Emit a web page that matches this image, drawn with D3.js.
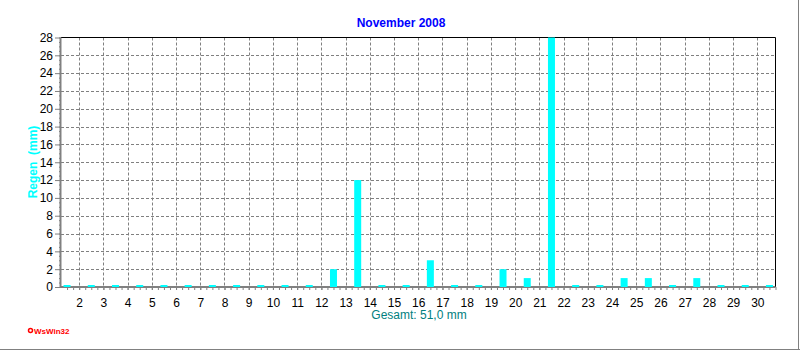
<!DOCTYPE html>
<html>
<head>
<meta charset="utf-8">
<script src="https://cdn.jsdelivr.net/npm/d3@7"></script>
<style>
  body { margin: 0; background: #fff; }
  svg { display: block; font-family: Arial, "Liberation Sans", sans-serif; }
</style>
</head>
<body>
<svg id="chart" width="800" height="350"></svg>
<script>
// rain per day, November 2008
const days = d3.range(1, 31);
const rain = [0, 0, 0, 0, 0, 0, 0, 0, 0, 0,
              0, 2, 12, 0, 0, 3, 0, 0, 2, 1,
              28, 0, 0, 1, 1, 0, 1, 0, 0, 0];
const xTicks = d3.range(2, 31);
const yTicks = d3.range(0, 29, 2);
const title = "November 2008";
const total = "Gesamt: 51,0 mm";

let svg = d3.select("#chart");

let plotLeft = 61, plotRight = 775.5, plotTop = 37.5, plotBottom = 287;

let x = d3.scaleLinear().domain([1.25, 30.75]).range([plotLeft, plotRight]);
let y = d3.scaleLinear().domain([0, 28]).range([plotBottom, plotTop]);

// outer frame (right + bottom)
svg.append("line").attr("x1", 798.5).attr("x2", 798.5).attr("y1", 0).attr("y2", 350)
  .attr("stroke", "#808080");
svg.append("line").attr("x1", 0).attr("x2", 800).attr("y1", 349.5).attr("y2", 349.5)
  .attr("stroke", "#808080");

// grid
svg.append("g")
  .selectAll("line")
  .data(xTicks)
  .enter()
  .append("line")
  .attr("x1", (d) => Math.round(x(d)) + 0.5)
  .attr("x2", (d) => Math.round(x(d)) + 0.5)
  .attr("y1", plotTop)
  .attr("y2", plotBottom)
  .attr("stroke", "#808080")
  .attr("stroke-dasharray", "3,2");

svg.append("g")
  .selectAll("line")
  .data(yTicks.filter((d) => d > 0 && d < 28))
  .enter()
  .append("line")
  .attr("x1", plotLeft)
  .attr("x2", plotRight)
  .attr("y1", (d) => Math.round(y(d)) + 0.5)
  .attr("y2", (d) => Math.round(y(d)) + 0.5)
  .attr("stroke", "#808080")
  .attr("stroke-dasharray", "3,2");

// top and right border
svg.append("line").attr("x1", plotLeft).attr("x2", plotRight).attr("y1", plotTop).attr("y2", plotTop)
  .attr("stroke", "#000");
svg.append("line").attr("x1", plotRight).attr("x2", plotRight).attr("y1", plotTop).attr("y2", plotBottom)
  .attr("stroke", "#000");

// y axis with minor ticks every 0.5
let yMinor = d3.axisLeft(y).tickValues(d3.range(0, 28.01, 0.5)).tickSize(2).tickFormat("");
let yMajor = d3.axisLeft(y).tickValues(yTicks).tickSize(6).tickPadding(2).tickFormat(d3.format("d"));
let gy = svg.append("g").attr("transform", `translate(${plotLeft},0)`).call(yMinor);
let gy2 = svg.append("g").attr("transform", `translate(${plotLeft},0)`).call(yMajor);
[gy, gy2].forEach((g) => {
  g.select(".domain").remove();
  g.selectAll(".tick line").attr("stroke", "#808080");
});
gy2.selectAll(".tick text").attr("font-size", 12).attr("fill", "#000")
  .attr("font-family", "Arial, 'Liberation Sans', sans-serif");

// x axis with minor ticks every quarter day
let xMinor = d3.axisBottom(x).tickValues(d3.range(1.5, 30.76, 0.25)).tickSize(3).tickFormat("");
let xMajor = d3.axisBottom(x).tickValues(xTicks).tickSize(3).tickPadding(8).tickFormat(d3.format("d"));
let gx = svg.append("g").attr("transform", `translate(0,${plotBottom})`).call(xMinor);
let gx2 = svg.append("g").attr("transform", `translate(0,${plotBottom})`).call(xMajor);
[gx, gx2].forEach((g) => {
  g.select(".domain").remove();
  g.selectAll(".tick line").attr("stroke", "#808080");
});
gx2.selectAll(".tick text").attr("font-size", 12).attr("fill", "#000")
  .attr("font-family", "Arial, 'Liberation Sans', sans-serif");

// thick gray axis lines
svg.append("line").attr("x1", plotLeft - 0.5).attr("x2", plotLeft - 0.5).attr("y1", plotTop).attr("y2", plotBottom + 1)
  .attr("stroke", "#808080").attr("stroke-width", 2);
svg.append("line").attr("x1", plotLeft - 1).attr("x2", plotRight).attr("y1", plotBottom).attr("y2", plotBottom)
  .attr("stroke", "#808080").attr("stroke-width", 2);

// bars
svg.append("g")
  .selectAll("rect")
  .data(days)
  .enter()
  .append("rect")
  .attr("x", (d) => x(d + 0.5) - 3.5)
  .attr("width", 7)
  .attr("y", (d, i) => Math.min(y(rain[i]), plotBottom - 2))
  .attr("height", (d, i) => Math.max(plotBottom - y(rain[i]), 2))
  .attr("fill", "#00ffff");

// title
svg.append("text")
  .attr("x", 401)
  .attr("y", 27)
  .attr("text-anchor", "middle")
  .attr("font-size", 12)
  .attr("font-weight", "bold")
  .attr("fill", "#0000ff")
  .text(title);

// y label
svg.append("text")
  .attr("transform", "translate(37,162) rotate(-90)")
  .attr("text-anchor", "middle")
  .attr("font-size", 12)
  .attr("font-weight", "bold")
  .attr("fill", "#00ffff")
  .attr("xml:space", "preserve")
  .style("white-space", "pre")
  .text("Regen  (mm)");

// total
svg.append("text")
  .attr("x", 419)
  .attr("y", 319)
  .attr("text-anchor", "middle")
  .attr("font-size", 12)
  .attr("fill", "#008080")
  .text(total);

// logo
svg.append("circle").attr("cx", 30.5).attr("cy", 330.5).attr("r", 2)
  .attr("fill", "none").attr("stroke", "#ff0000").attr("stroke-width", 1.5);
svg.append("text")
  .attr("x", 34)
  .attr("y", 334)
  .attr("font-size", 8)
  .attr("font-weight", "bold")
  .attr("fill", "#ff0000")
  .text("WsWin32");
</script>
</body>
</html>
